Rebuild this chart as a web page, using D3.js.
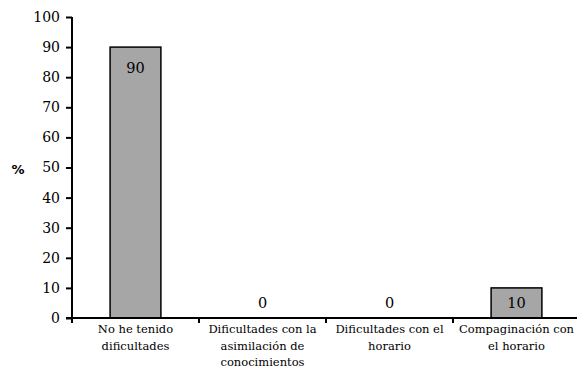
<!DOCTYPE html>
<html>
<head>
<meta charset="utf-8">
<script src="https://cdn.jsdelivr.net/npm/d3@7"></script>
<style>
  body { margin: 0; background: #fff; }
  text { font-family: "DejaVu Serif", serif; fill: #000; }
</style>
</head>
<body>
<div id="chart"></div>
<script>
var svgWidth = 577;
var svgHeight = 372;

// data
var categories = [
  ["No he tenido", "dificultades"],
  ["Dificultades con la", "asimilación de", "conocimientos"],
  ["Dificultades con el", "horario"],
  ["Compaginación con", "el horario"]
];
var values = [90, 0, 0, 10];
var yTicks = [0, 10, 20, 30, 40, 50, 60, 70, 80, 90, 100];

var margin = { top: 17, right: 0, bottom: 54, left: 72 };
var width = 508;
var height = svgHeight - margin.top - margin.bottom;

var svg = d3.select("#chart")
  .append("svg")
  .attr("width", svgWidth)
  .attr("height", svgHeight);

var chartGroup = svg.append("g")
  .attr("transform", `translate(${margin.left}, ${margin.top})`);

var xScale = d3.scaleBand()
  .domain(d3.range(categories.length))
  .range([0, width])
  .paddingInner(0.6)
  .paddingOuter(0.3);

var yScale = d3.scaleLinear()
  .domain([0, 100])
  .range([height, 0]);

// bars
chartGroup.selectAll("rect")
  .data(values)
  .enter()
  .append("rect")
  .attr("x", (d, i) => xScale(i))
  .attr("y", d => yScale(d))
  .attr("width", xScale.bandwidth())
  .attr("height", d => yScale(0) - yScale(d))
  .attr("fill", "#a6a6a6")
  .attr("stroke", "#000")
  .attr("stroke-width", 1.5);

// value labels
chartGroup.selectAll(".val")
  .data(values)
  .enter()
  .append("text")
  .attr("class", "val")
  .attr("x", (d, i) => xScale(i) + xScale.bandwidth() / 2)
  .attr("y", d => Math.min(yScale(d) + 26, yScale(0) - 10))
  .attr("text-anchor", "middle")
  .style("font-size", "14.5px")
  .text(d => d);

// y axis
var leftAxis = d3.axisLeft(yScale).tickValues(yTicks).tickSize(6).tickPadding(6);
var yAxis = chartGroup.append("g").call(leftAxis);
yAxis.select(".domain").attr("d", `M0,0V${height}`).attr("stroke-width", 2);
yAxis.selectAll(".tick line").attr("stroke-width", 2);
yAxis.selectAll(".tick text").style("font-size", "14px").style("font-family", "'DejaVu Serif', serif");

// x axis
var xAxisG = chartGroup.append("g").attr("transform", `translate(0, ${height})`);
xAxisG.append("line")
  .attr("x1", -6).attr("x2", svgWidth - margin.left)
  .attr("stroke", "#000").attr("stroke-width", 2);
xAxisG.selectAll(".xt")
  .data(d3.range(categories.length))
  .enter()
  .append("line")
  .attr("class", "xt")
  .attr("x1", i => xScale.step() * i)
  .attr("x2", i => xScale.step() * i)
  .attr("y1", 0).attr("y2", 5)
  .attr("stroke", "#000").attr("stroke-width", 2);

var catLabels = xAxisG.selectAll(".cat")
  .data(categories)
  .enter()
  .append("text")
  .attr("class", "cat")
  .attr("text-anchor", "middle")
  .style("font-size", "11.5px")
  .attr("transform", (d, i) => `translate(${xScale(i) + xScale.bandwidth() / 2}, 0)`);
catLabels.selectAll("tspan")
  .data(d => d)
  .enter()
  .append("tspan")
  .attr("x", 0)
  .attr("y", (d, j) => 15 + j * 16.5)
  .text(d => d);

// y label
svg.append("text")
  .attr("x", 18)
  .attr("y", 174)
  .attr("text-anchor", "middle")
  .style("font-family", "'DejaVu Sans', sans-serif")
  .style("font-weight", "bold")
  .style("font-size", "13px")
  .text("%");
</script>
</body>
</html>
